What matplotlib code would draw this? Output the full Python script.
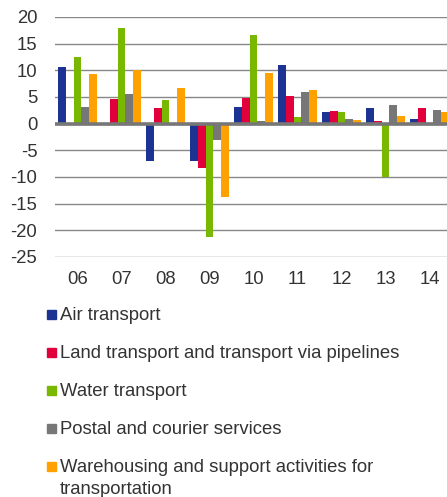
import matplotlib.pyplot as plt
from matplotlib.patches import Rectangle
import numpy as np

plt.rcParams['font.family'] = ['Liberation Sans', 'DejaVu Sans']
plt.rcParams['axes.unicode_minus'] = False

years = ["06", "07", "08", "09", "10", "11", "12", "13", "14"]
air = [10.6, -0.3, -7.1, -7.1, 3.1, 11.0, 2.2, 2.9, 0.9]
land = [-0.1, 4.7, 2.9, -8.4, 4.8, 5.1, 2.4, 0.5, 3.0]
water = [12.5, 17.9, 4.5, -21.3, 16.7, 1.3, 2.2, -10.1, 0.1]
postal = [3.2, 5.5, -0.3, -3.0, 0.5, 6.0, 0.9, 3.5, 2.6]
warehousing = [9.3, 10.0, 6.6, -13.8, 9.5, 6.3, 0.7, 1.5, 2.2]

series = [air, land, water, postal, warehousing]
names = ["Air transport",
         "Land transport and transport via pipelines",
         "Water transport",
         "Postal and courier services",
         "Warehousing and support activities for\ntransportation"]
colors = ["#1c3393", "#e2003c", "#78b800", "#777777", "#ffa100"]

text_color = "#333333"
fs = 13.3

fig = plt.figure(figsize=(4.47, 4.97), dpi=100)
ax = fig.add_axes([0.124, 0.483, 0.886, 0.483])

x = np.arange(len(years))
w = 0.176
for k, (vals, c) in enumerate(zip(series, colors)):
    ax.bar(x + (k - 2) * w, vals, width=w, color=c, zorder=3)

ax.set_xlim(-0.5, len(years) - 0.5)
ax.set_ylim(-25, 20)
ax.set_yticks(range(-25, 21, 5))
ax.set_xticks(x)
ax.set_xticklabels(years)
ax.yaxis.grid(True, color="#888888", linewidth=1.0, zorder=0)
ax.axhline(0, color="#777777", linewidth=2.6, zorder=4)
for s in ax.spines.values():
    s.set_visible(False)
ax.tick_params(length=0, labelsize=fs, colors=text_color)
ax.tick_params(axis="x", pad=10)
ax.tick_params(axis="y", pad=13)

# legend, square aligned with first text line
leg_y = [314, 352, 390, 428, 466]
for name, c, yp in zip(names, colors, leg_y):
    yf = 1 - yp / 497
    fig.patches.append(Rectangle((47 / 447, yf - 4.5 / 497), 9 / 447, 9 / 497,
                                 transform=fig.transFigure, color=c))
    fig.text(60 / 447, yf + 7 / 497, name, fontsize=fs, color=text_color,
             va="top", ha="left", linespacing=1.4)

plt.savefig("out.png", dpi=100)
plt.close()
